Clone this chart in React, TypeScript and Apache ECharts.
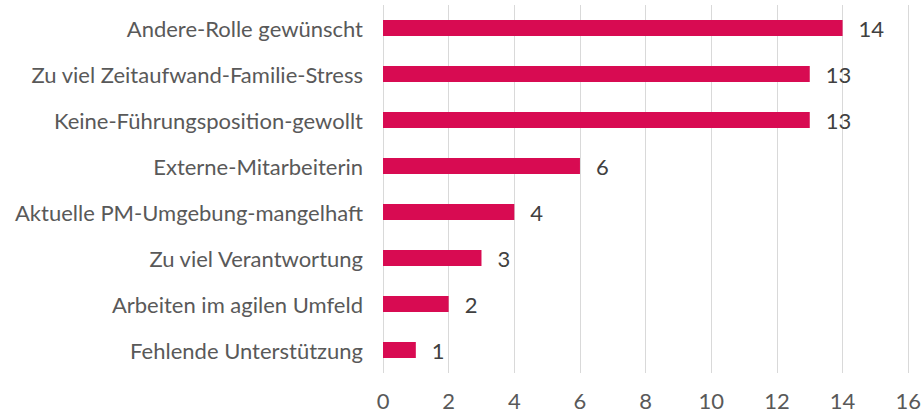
import React, { useEffect, useRef } from "react";
import * as echarts from "echarts";

const categories = [
  "Fehlende Unterstützung",
  "Arbeiten im agilen Umfeld",
  "Zu viel Verantwortung",
  "Aktuelle PM-Umgebung-mangelhaft",
  "Externe-Mitarbeiterin",
  "Keine-Führungsposition-gewollt",
  "Zu viel Zeitaufwand-Familie-Stress",
  "Andere-Rolle gewünscht",
];
const values = [1, 2, 3, 4, 6, 13, 13, 14];

export default function App() {
  const ref = useRef<HTMLDivElement>(null);
  useEffect(() => {
    document.body.style.margin = "0";
    const chart = echarts.init(ref.current!, null, { renderer: "svg" });
    const font = "Lato, 'Open Sans', sans-serif";
    chart.setOption({
      animation: false,
      grid: { left: 383, right: 14, top: 5, bottom: 44, containLabel: false },
      xAxis: {
        type: "value",
        min: 0,
        max: 16,
        interval: 2,
        axisLine: { show: false },
        axisTick: { show: false },
        splitLine: { show: true, lineStyle: { color: "#d9d9d9", width: 1 } },
        axisLabel: { color: "#595959", fontSize: 22, fontFamily: font, margin: 16 },
      },
      yAxis: {
        type: "category",
        data: categories,
        axisLine: { show: false },
        axisTick: { show: false },
        axisLabel: { color: "#595959", fontSize: 22, fontFamily: font, margin: 20 },
      },
      series: [
        {
          type: "bar",
          data: values,
          barWidth: 16,
          itemStyle: { color: "#d80b52" },
          label: {
            show: true,
            position: "right",
            distance: 16,
            color: "#404040",
            fontSize: 22,
            fontFamily: font,
          },
        },
      ],
    });
    return () => chart.dispose();
  }, []);
  return <div ref={ref} style={{ width: 924, height: 417 }} />;
}
